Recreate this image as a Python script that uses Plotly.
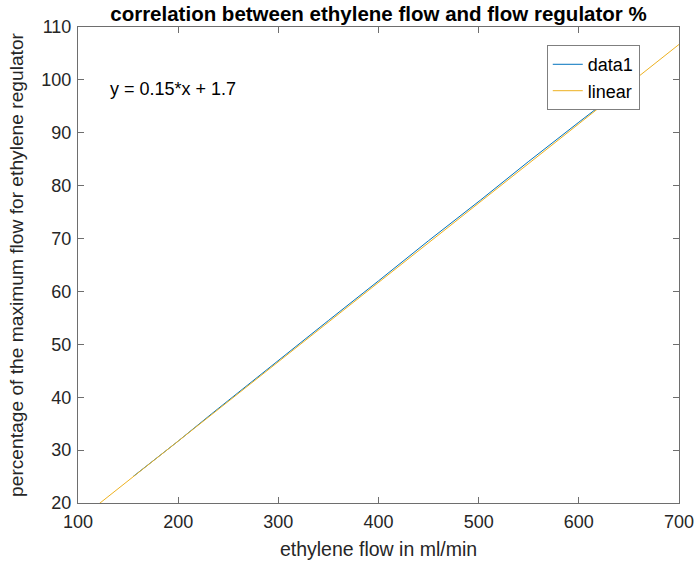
import plotly.graph_objects as go

data_x = [155, 200, 233, 300, 350, 400, 450, 502, 550, 600, 655]
data_y = [25.0, 31.7, 36.8, 47.0, 54.5, 62.0, 69.6, 77.3, 84.6, 92.0, 100.0]

# linear fit line endpoints: y = 0.15*x + 1.7
fit_x = [100, 700]
fit_y = [16.7, 106.7]

equation_text = "y = 0.15*x + 1.7"

axis_color = "#262626"
line_color = "#6e6e6e"
font_family = "Liberation Sans, Arial, Helvetica, sans-serif"

fig = go.Figure()
fig.add_trace(go.Scatter(x=data_x, y=data_y, mode="lines", name="data1",
                         line=dict(color="#0072BD", width=1)))
fig.add_trace(go.Scatter(x=fit_x, y=fit_y, mode="lines", name="linear",
                         line=dict(color="#EDB120", width=1)))

fig.add_annotation(x=130, y=98.3, xref="x", yref="y", text=equation_text,
                   showarrow=False, xanchor="left", yanchor="middle",
                   font=dict(family=font_family, size=18, color="black"))

axis_common = dict(showgrid=False, zeroline=False, showline=True, linecolor=line_color,
                   linewidth=1, mirror="ticks", ticks="inside", ticklen=6,
                   tickcolor=line_color, automargin=False,
                   tickfont=dict(family=font_family, size=18, color=axis_color))

fig.update_layout(
    width=697, height=563,
    margin=dict(l=78, r=18, t=27, b=60),
    paper_bgcolor="white", plot_bgcolor="white",
    title=dict(text="<b>correlation between ethylene flow and flow regulator %</b>",
               x=(78 + 679) / 2 / 697, xanchor="center", y=1 - 14 / 563, yanchor="middle",
               font=dict(family=font_family, size=20.5, color="black")),
    xaxis=dict(range=[100, 700], dtick=100, tick0=100, ticklabelstandoff=2,
               title=dict(text="ethylene flow in ml/min", standoff=11,
                          font=dict(family=font_family, size=19.5, color=axis_color)),
               **axis_common),
    yaxis=dict(range=[20, 110], dtick=10, tick0=20, ticklabelstandoff=2,
               title=dict(text="percentage of the maximum flow for ethylene regulator", standoff=12,
                          font=dict(family=font_family, size=19.2, color=axis_color)),
               **axis_common),
    legend=dict(x=0.78, y=0.962, xanchor="left", yanchor="top",
                bgcolor="white", bordercolor="#7f7f7f", borderwidth=1,
                font=dict(family=font_family, size=18, color="black"),
                tracegroupgap=0),
    showlegend=True,
)

fig.write_html("out.html")
